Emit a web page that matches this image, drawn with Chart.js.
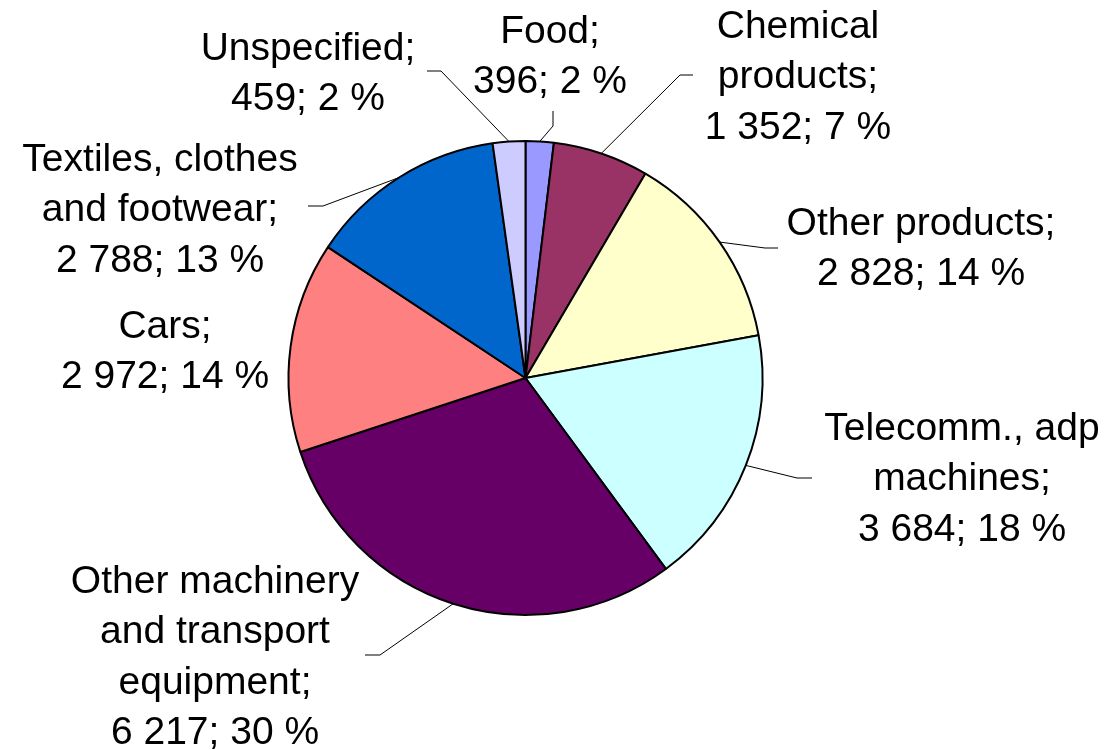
<!DOCTYPE html>
<html>
<head>
<meta charset="utf-8">
<title>Imports by product group</title>
<script src="https://cdn.jsdelivr.net/npm/chart.js@4.4.0/dist/chart.umd.min.js"></script>
<style>
  html, body { margin: 0; padding: 0; background: #fff; }
  #wrap { width: 1113px; height: 750px; }
</style>
</head>
<body>
<div id="wrap"><canvas id="pieChart" width="1113" height="750"></canvas></div>
<script>
// product groups, clockwise from 12 o'clock
const categories = [
  "Food",
  "Chemical\nproducts",
  "Other products",
  "Telecomm., adp\nmachines",
  "Other machinery\nand transport\nequipment",
  "Cars",
  "Textiles, clothes\nand footwear",
  "Unspecified"
];
const values = [396, 1352, 2828, 3684, 6217, 2972, 2788, 459];
const colors = ["#9999FF", "#993366", "#FFFFCC", "#CCFFFF", "#660066", "#FF8080", "#0066CC", "#CCCCFF"];

///////////////////////////////
// label placement (centre x, first line y) and leader elbows
///////////////////////////////
const labelPos = [[550, 32], [798, 27], [921, 224], [962, 429], [215, 582], [165, 327], [160, 160], [308, 49]];
const leaders = [
  [[553, 126], [553, 111]],
  [[680, 75], [693, 75]],
  [[765, 248], [778, 248]],
  [[797, 478], [812, 478]],
  [[380, 655], [365, 655]],
  null,
  [[323, 206], [308, 206]],
  [[441, 71], [427, 71]]
];
const lineGap = 50.5;

function fmtNum(n) {
  return String(n).replace(/\B(?=(\d{3})+(?!\d))/g, " ");
}

const pieLabels = {
  id: "pieLabels",
  afterDatasetsDraw(chart) {
    const ctx = chart.ctx;
    const arcs = chart.getDatasetMeta(0).data;
    const total = values.reduce((a, b) => a + b, 0);
    ctx.save();

    arcs.forEach((arc, i) => {
      const mid = (arc.startAngle + arc.endAngle) / 2;
      const sx = arc.x + Math.cos(mid) * arc.outerRadius;
      const sy = arc.y + Math.sin(mid) * arc.outerRadius;
      if (leaders[i]) {
        ctx.beginPath();
        ctx.strokeStyle = "#000";
        ctx.lineWidth = 1;
        ctx.moveTo(sx, sy);
        leaders[i].forEach(p => ctx.lineTo(p[0], p[1]));
        ctx.stroke();
      }

      const lines = categories[i].split("\n");
      lines[lines.length - 1] += ";";
      lines.push(fmtNum(values[i]) + "; " + Math.round(values[i] / total * 100) + " %");

      ctx.fillStyle = "#000";
      ctx.font = "39px 'Liberation Sans', Arial, sans-serif";
      ctx.textAlign = "center";
      ctx.textBaseline = "middle";
      lines.forEach((t, k) => {
        ctx.fillText(t, labelPos[i][0], labelPos[i][1] + k * lineGap);
      });
    });
    ctx.restore();
  }
};

const ctx = document.getElementById("pieChart").getContext("2d");
new Chart(ctx, {
  type: "pie",
  data: {
    labels: categories,
    datasets: [{
      data: values,
      backgroundColor: colors,
      borderColor: "#000",
      borderWidth: 2
    }]
  },
  options: {
    responsive: false,
    animation: false,
    radius: 237,
    layout: { padding: { left: 288, right: 350, top: 141, bottom: 135 } },
    plugins: {
      legend: { display: false },
      tooltip: { enabled: false }
    }
  },
  plugins: [pieLabels]
});
</script>
</body>
</html>
